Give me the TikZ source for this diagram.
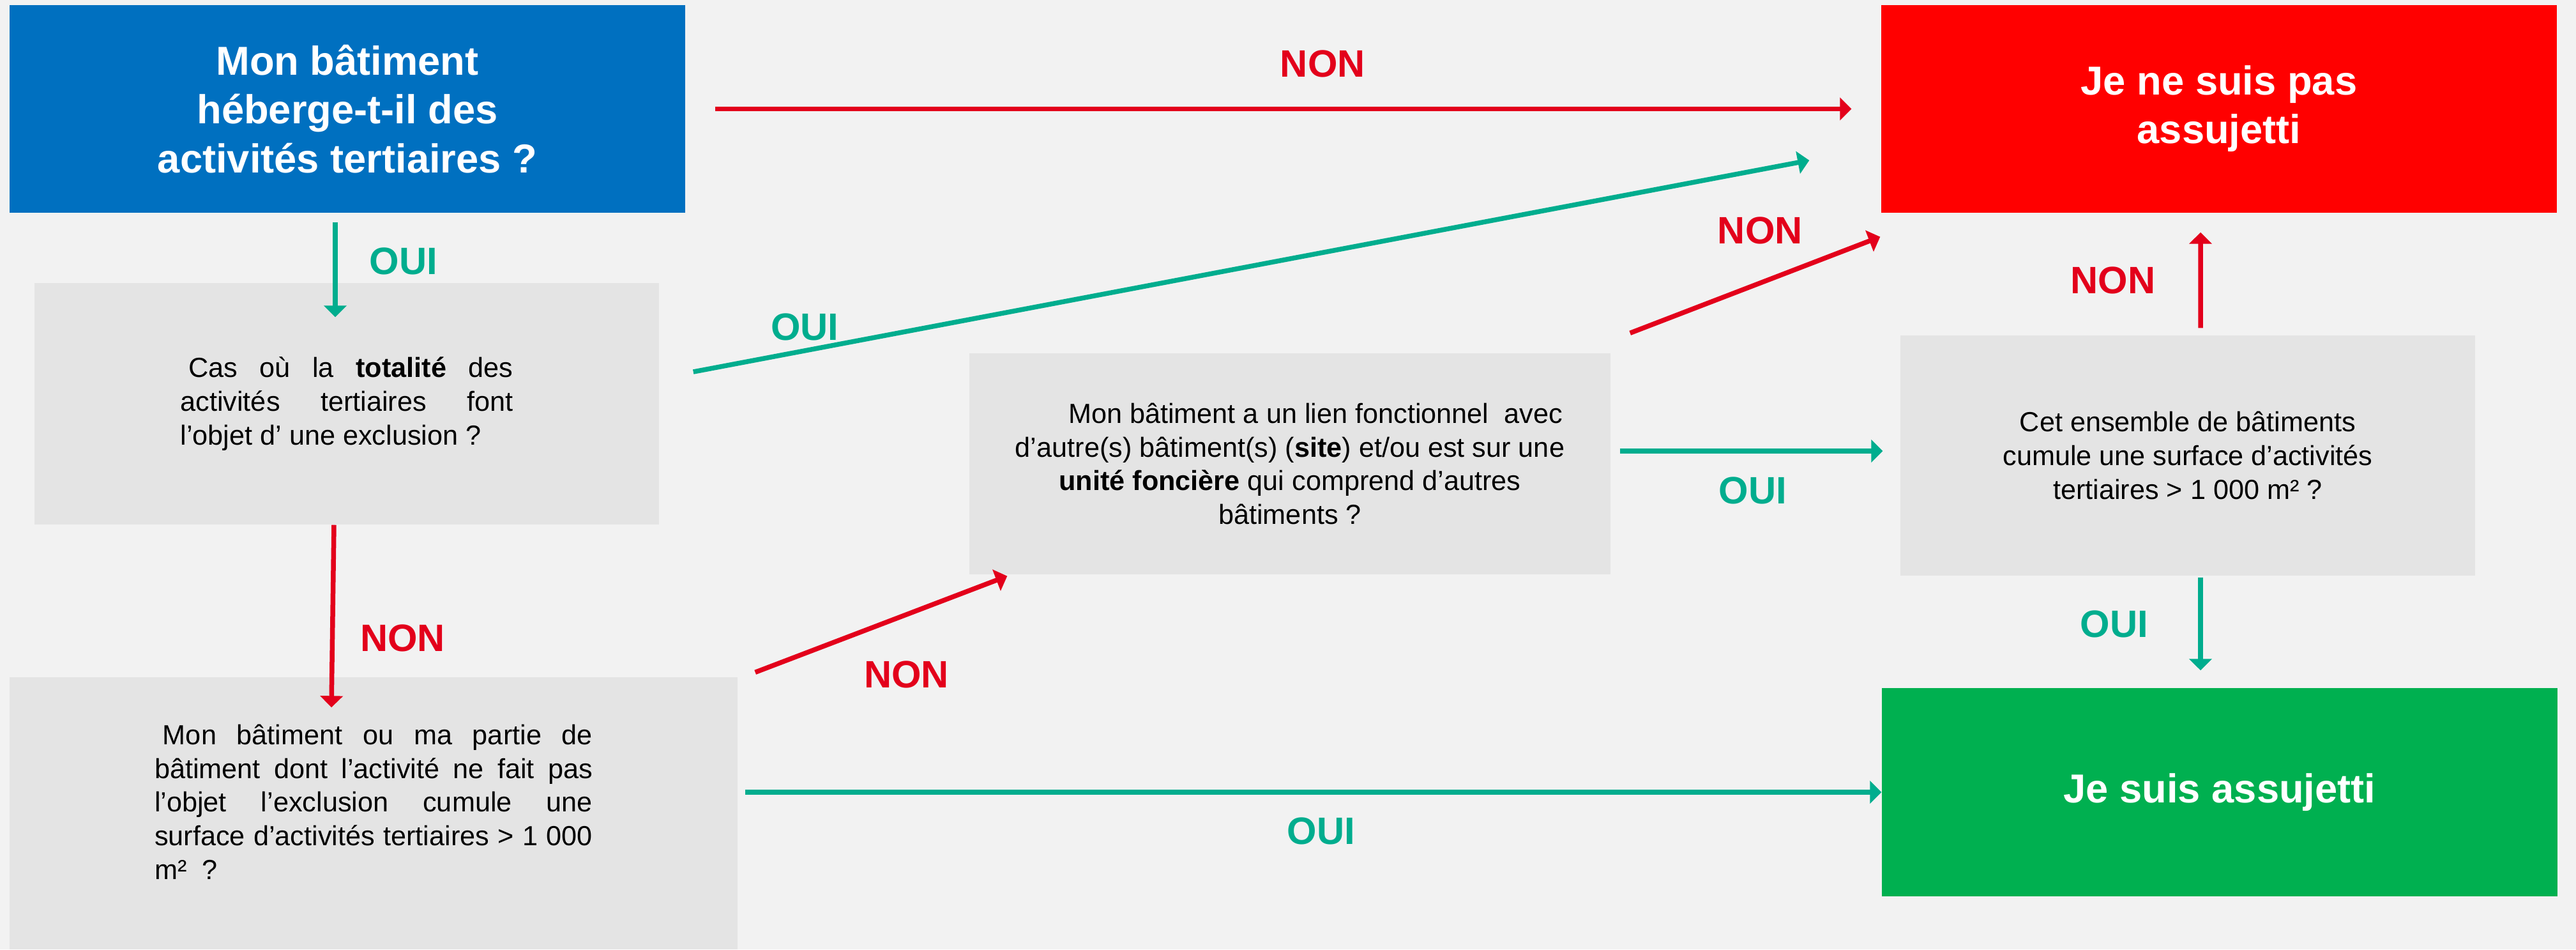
\documentclass[tikz,border=0pt]{standalone}
\usepackage{fontspec}
\setmainfont{Liberation Sans}
\usetikzlibrary{arrows.meta}
\definecolor{fond}{HTML}{F2F2F2}
\definecolor{bleu}{HTML}{0070C0}
\definecolor{rougebox}{HTML}{FF0000}
\definecolor{vertbox}{HTML}{00B050}
\definecolor{grisbox}{HTML}{E4E4E4}
\definecolor{rouge}{HTML}{E3001B}
\definecolor{vert}{HTML}{00AD8E}

\begin{document}
\begin{tikzpicture}[
    q/.style={fill=#1, inner sep=0pt, align=center, text=white, font=\fontsize{18}{21.7}\selectfont\bfseries},
    gris/.style={fill=grisbox, inner sep=0pt, font=\fontsize{12.3}{15}\selectfont},
    non/.style={draw=rouge, line width=0.75mm, -{Triangle[length=1.8mm,width=3.5mm]}},
    oui/.style={draw=vert, line width=0.75mm, -{Triangle[length=1.8mm,width=3.5mm]}},
    lbl/.style={font=\fontsize{17}{20}\selectfont\bfseries, text=#1}
  ]
    \useasboundingbox (0,0) rectangle (40.34,-14.86);
    \fill[fond] (0,0) rectangle (40.34,-14.86);

    \node[q=bleu, minimum width=10.58cm, minimum height=3.25cm] (q1) at (5.44,-1.705)
      {Mon bâtiment\\héberge-t-il des\\activités tertiaires ?};
    \node[q=rougebox, minimum width=10.58cm, minimum height=3.25cm] (nonassu) at (34.75,-1.705)
      {Je ne suis pas\\assujetti};
    \node[q=vertbox, minimum width=10.58cm, minimum height=3.26cm] (assu) at (34.76,-12.40)
      {Je suis assujetti};

    \node[gris, minimum width=9.78cm, minimum height=3.78cm, text width=5.21cm, align=justify] (tot) at (5.43,-6.32)
      {\hspace*{0.3em}Cas où la \textbf{totalité} des\linebreak activités tertiaires font\linebreak l’objet d’ une exclusion ?};
    \node[gris, minimum width=11.4cm, minimum height=4.26cm, text width=6.86cm, align=justify] (part) at (5.85,-12.73)
      {\hspace*{0.3em}Mon bâtiment ou ma partie de\linebreak bâtiment dont l’activité ne fait pas\linebreak l’objet l’exclusion cumule une\linebreak surface d’activités tertiaires > 1~000\linebreak m²~~?\rule[-0.36cm]{0pt}{0pt}};
    \node[gris, minimum width=10.04cm, minimum height=3.46cm, align=center] (lien) at (20.20,-7.26)
      {\hspace*{0.8cm}Mon bâtiment a un lien fonctionnel~ avec\\d’autre(s) bâtiment(s) (\textbf{site}) et/ou est sur une\\\textbf{unité foncière} qui comprend d’autres\\bâtiments ?};
    \node[gris, minimum width=9.0cm, minimum height=3.76cm, align=center] (ens) at (34.26,-7.13)
      {Cet ensemble de bâtiments\\cumule une surface d’activités\\tertiaires > 1~000 m² ?};

    \draw[non, shorten <=4.6mm, shorten >=4.6mm] (q1.east) -- node[lbl=rouge, pos=0.533, yshift=0.705cm]{NON} (nonassu.west);
    \draw[oui] ([shift={(-0.19,-0.14)}]q1.south) -- node[lbl=vert, pos=0.41, xshift=1.07cm]{OUI} ([shift={(-0.18,-0.54)}]tot.north);
    \draw[oui] ([shift={(0.53,0.50)}]tot.east) -- node[lbl=vert, pos=0.1, yshift=0.37cm]{OUI} ([shift={(-1.12,-0.805)}]nonassu.west);
    \draw[non] ([xshift=-0.20cm]tot.south) -- node[lbl=rouge, pos=0.62, xshift=1.1cm]{NON} ([shift={(-0.66,-0.48)}]part.north);
    \draw[non] ([shift={(0.27,0.07)}]part.north east) -- node[lbl=rouge, pos=0.6, yshift=-0.94cm]{NON} ([shift={(0.60,-0.02)}]lien.south west);
    \draw[oui, shorten <=1.1mm] (part.east |- assu.west) -- node[lbl=vert, pos=0.51, yshift=-0.61cm]{OUI} (assu.west);
    \draw[non] ([shift={(0.30,0.31)}]lien.north east) -- node[lbl=rouge, pos=0.52, yshift=0.82cm]{NON} ([shift={(-0.01,-0.37)}]nonassu.south west);
    \draw[oui] ([shift={(0.14,0.20)}]lien.east) -- node[lbl=vert, pos=0.506, yshift=-0.62cm]{OUI} ([shift={(-0.27,0.07)}]ens.west);
    \draw[non] ([shift={(0.20,0.11)}]ens.north) -- node[lbl=rouge, pos=0.5, xshift=-1.37cm]{NON} ([shift={(-0.29,-0.30)}]nonassu.south);
    \draw[oui] ([shift={(0.20,-0.02)}]ens.south) -- node[lbl=vert, pos=0.5, xshift=-1.35cm]{OUI} ([shift={(-0.30,0.27)}]assu.north);
  \end{tikzpicture}
\end{document}
